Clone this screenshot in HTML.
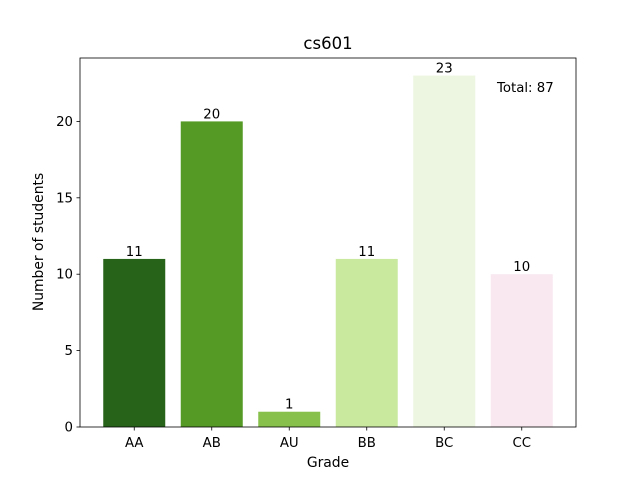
<!DOCTYPE html>
<html><head><meta charset="utf-8"><style>
body{margin:0;background:#fff;font-family:"Liberation Sans","DejaVu Sans",sans-serif}
</style></head><body>
<svg width="640" height="480" font-family="DejaVu Sans, Liberation Sans, sans-serif">
<text x="328" y="49" font-size="16.5" text-anchor="middle">cs601</text>
<g id="bars"></g>
<rect x="80" y="58" width="496" height="369" fill="none" stroke="#000" stroke-width="0.8"/>
<g id="axes" font-size="13.3"></g>
<text x="497" y="92" font-size="13.3">Total: 87</text>
<text x="328" y="467" font-size="13.9" text-anchor="middle">Grade</text>
<text x="43" y="242" font-size="13.9" text-anchor="middle" transform="rotate(-90 43 242)">Number of students</text>
</svg>
<script>
const categories=["AA","AB","AU","BB","BC","CC"];
const values=[11,20,1,11,23,10];
const colors=["#276419","#559a25","#87c04a","#c9e99f","#edf6e0","#f9e8f0"];
const yTicks=[0,5,10,15,20];
const L=80,R=576,T=58,B=427,xmin=-0.7,xmax=5.7,ymax=24.15;
const xs=v=>L+(v-xmin)/(xmax-xmin)*(R-L);
const ys=v=>B-v/ymax*(B-T);
const NS="http://www.w3.org/2000/svg";
const bars=document.getElementById('bars'),axes=document.getElementById('axes');
function mk(t,a,p){const e=document.createElementNS(NS,t);for(const k in a)e.setAttribute(k,a[k]);p.appendChild(e);return e;}
categories.forEach((c,i)=>{
 const r=mk('rect',{x:xs(i-0.4),y:ys(values[i]),width:xs(i+0.4)-xs(i-0.4),height:B-ys(values[i]),fill:colors[i]},bars);
 
 
 const t=mk('text',{x:xs(i),y:ys(values[i])-3,'text-anchor':'middle','font-size':'13.3'},bars);
 t.textContent=values[i];
 
 
 const tk=mk('line',{x1:xs(i),x2:xs(i),y1:B,y2:B+3.5,stroke:'#000','stroke-width':0.8},axes);
 
 
 const tl=mk('text',{x:xs(i),y:B+20,'text-anchor':'middle'},axes);
 tl.textContent=c;
 
 
});
yTicks.forEach(v=>{
 const tk=mk('line',{x1:L-3.5,x2:L,y1:ys(v),y2:ys(v),stroke:'#000','stroke-width':0.8},axes);
 
 
 const tl=mk('text',{x:L-7,y:ys(v)+4.5,'text-anchor':'end'},axes);
 tl.textContent=v;
 
 
});
</script>
</body></html>
